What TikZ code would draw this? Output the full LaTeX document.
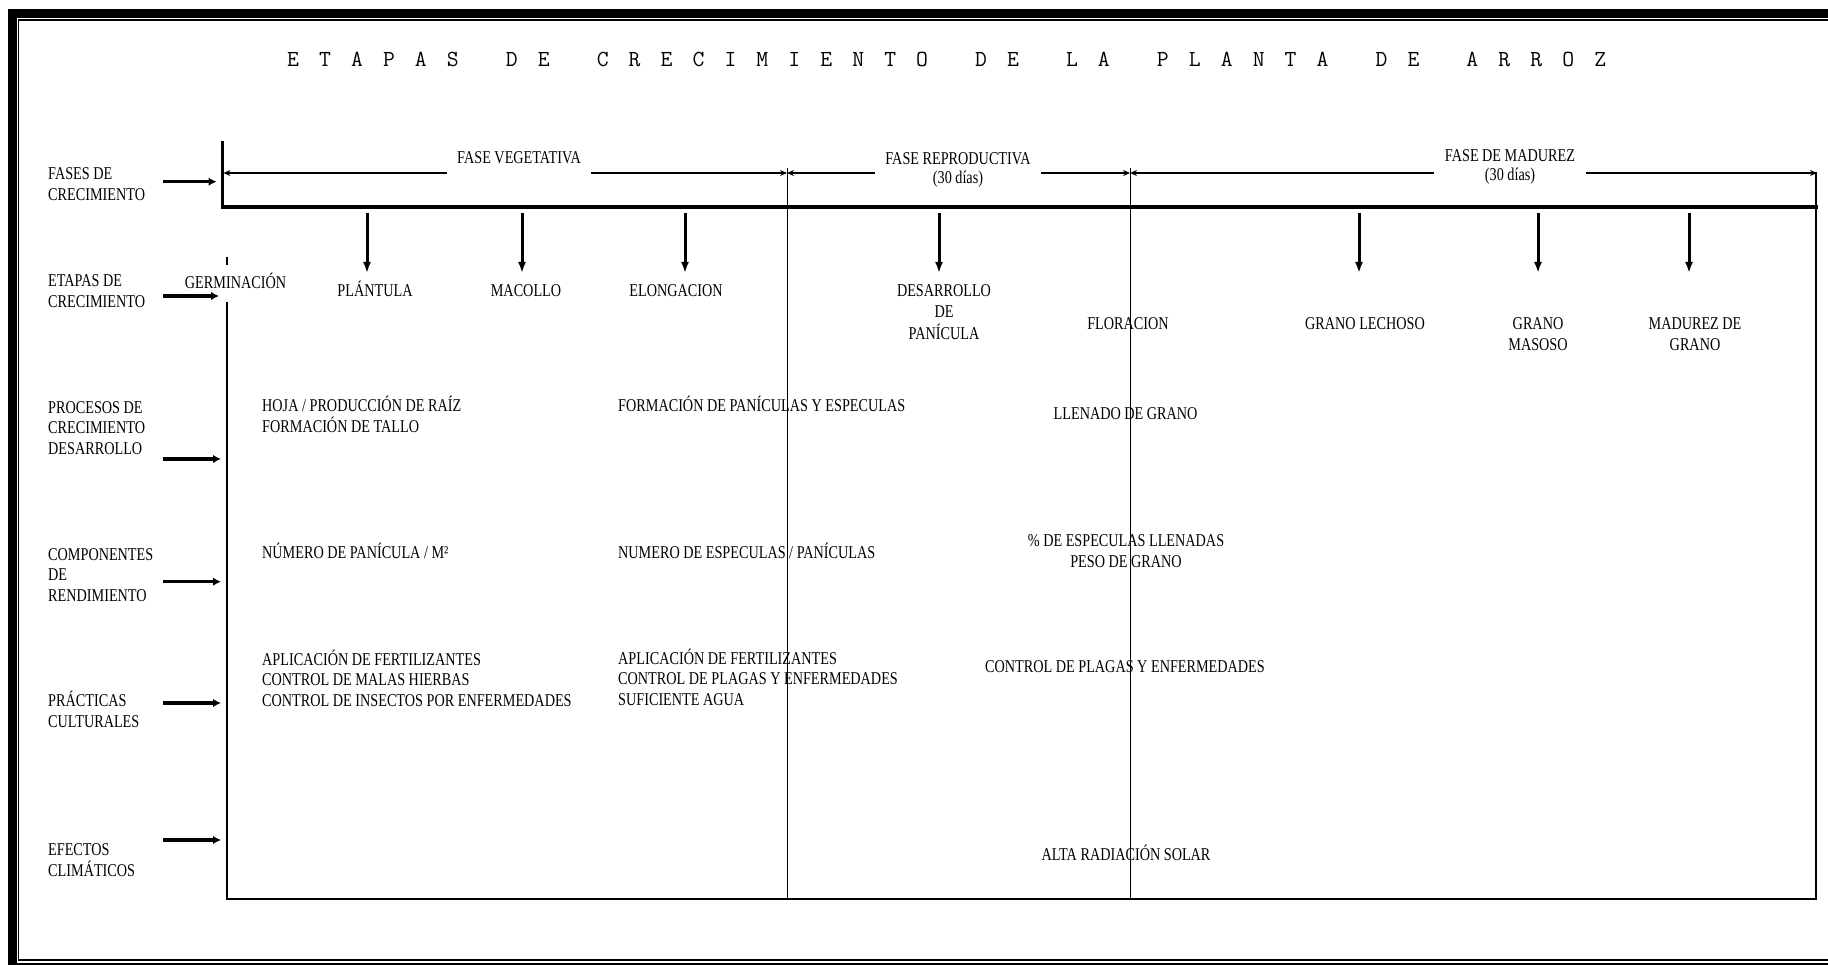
\documentclass[tikz,border=0pt]{standalone}
\usepackage{fontspec}
\setmainfont{Liberation Serif}[FakeStretch=0.79]
\usetikzlibrary{arrows.meta}
\newcommand\lf{\fontsize{18}{20.6}\selectfont}
\newcommand\phf{\fontsize{18}{18.5}\selectfont}
\newcommand\ttl{\ttfamily\fontsize{23}{27}\selectfont\spaceskip=20.1pt\relax}
\newcommand\wg{\hspace{27pt}}
\newcommand\ml[2][c]{\begin{tabular}[t]{@{}#1@{}}#2\end{tabular}}
\begin{document}
\begin{tikzpicture}[x=1pt,y=-1pt,
  txt/.style={inner sep=0pt, font=\lf},
  lft/.style={txt, anchor=base west},
  ctr/.style={txt, anchor=base},
  phase/.style={inner xsep=10.5pt, inner ysep=0pt, anchor=base, font=\phf},
  dim/.style={line width=1.1pt, -{Stealth[length=7pt,width=6pt]}},
  down/.style={line width=3pt, -{Latex[length=11pt,width=8pt]}},
  side/.style={line width=3.2pt, -{Latex[length=8pt,width=8.5pt]}},
  boxline/.style={line width=2.6pt},
  divider/.style={line width=0.9pt}]
\useasboundingbox (0,0) rectangle (1828,965);
\clip (0,0) rectangle (1828,965);
% frame
\draw[line width=8.6pt] (12.2,13.3) rectangle (1845,967);
\draw[line width=1.4pt] (18.5,20) rectangle (1838,960);
% title
\node[anchor=base west, inner sep=0pt, font=\ttl] (title) at (287,67)
  {E T A P A S\wg{} D E\wg{} C R E C I M I E N T O\wg{} D E\wg{} L A\wg{} P L A N T A\wg{} D E\wg{} A R R O Z};
% box structure
\draw[line width=3pt] (222,141) -- (222,207);
\draw[line width=4pt] (220.5,207) -- (1818,207);
\draw[boxline] (1816,172) -- (1816,899);
\draw[boxline] (227,301.7) -- (227,899) -- (1817,899);
\draw[boxline] (227,256.7) -- (227,265);
\draw[divider] (787,168) -- (787,899);
\draw[divider] (1130,168) -- (1130,899);
% phases
\node[phase] (fv) at (519,164) {FASE VEGETATIVA};
\node[phase] (fr) at (958,165) {\ml{FASE REPRODUCTIVA\\(30 días)}};
\node[phase] (fm) at (1510,162) {\ml{FASE DE MADUREZ\\(30 días)}};
\coordinate (a0) at (223.5,173);
\coordinate (a1) at (787,173);
\coordinate (a2) at (1130,173);
\coordinate (a3) at (1817,173);
\draw[dim] (fv.west |- a0) -- (a0);
\draw[dim] (fv.east |- a0) -- (a1);
\draw[dim] (fr.west |- a0) -- (a1);
\draw[dim] (fr.east |- a0) -- (a2);
\draw[dim] (fm.west |- a0) -- (a2);
\draw[dim] (fm.east |- a0) -- (a3);
% stage arrows
\foreach \n/\x in {s1/367,s2/522,s3/685,s4/939,s5/1359,s6/1538,s7/1689}{
  \coordinate (\n) at (\x,213);
  \draw[down] (\n) -- ++(0,60);
}
% stage labels
\node[ctr] (germ) at (235.5,289) {GERMINACIÓN};
\node[ctr] (plan) at (375,297) {PLÁNTULA};
\node[ctr] (maco) at (526,297) {MACOLLO};
\node[ctr] (elon) at (676,297) {ELONGACION};
\node[ctr] (desa) at (944,297) {\ml{DESARROLLO\\DE\\PANÍCULA}};
\node[ctr] (flor) at (1128,330) {FLORACION};
\node[ctr] (lech) at (1365,330) {GRANO LECHOSO};
\node[ctr] (maso) at (1538,330) {\ml{GRANO\\MASOSO}};
\node[ctr] (madu) at (1695,330) {\ml{MADUREZ DE\\GRANO}};
% row labels
\node[lft] (r1) at (48,180) {\ml[l]{FASES DE\\CRECIMIENTO}};
\node[lft] (r2) at (48,286.7) {\ml[l]{ETAPAS DE\\CRECIMIENTO}};
\node[lft] (r3) at (48,413) {\ml[l]{PROCESOS DE\\CRECIMIENTO\\DESARROLLO}};
\node[lft] (r4) at (48,560) {\ml[l]{COMPONENTES\\DE\\RENDIMIENTO}};
\node[lft] (r5) at (48,706.7) {\ml[l]{PRÁCTICAS\\CULTURALES}};
\node[lft] (r6) at (48,855) {\ml[l]{EFECTOS\\CLIMÁTICOS}};
% row arrows
\foreach \n/\y/\e in {1/181.7/216.5,2/296/219,3/459/221,4/581.7/221,5/703/221,6/840/221}{
  \coordinate (b\n) at (163,\y);
  \coordinate (c\n) at (\e,\y);
  \draw[side] (b\n) -- (c\n);
}
% contents
\node[lft] (t1) at (262,411) {\ml[l]{HOJA / PRODUCCIÓN DE RAÍZ\\FORMACIÓN DE TALLO}};
\node[lft] (t2) at (618,411.7) {FORMACIÓN DE PANÍCULAS Y ESPECULAS};
\node[ctr] (t3) at (1125.6,419) {LLENADO DE GRANO};
\node[lft] (t4) at (262,558) {NÚMERO DE PANÍCULA / M²};
\node[lft] (t5) at (618,558) {NUMERO DE ESPECULAS / PANÍCULAS};
\node[ctr] (t6) at (1126,546.7) {\ml{\% DE ESPECULAS LLENADAS\\PESO DE GRANO}};
\node[lft] (t7) at (262,665) {\ml[l]{APLICACIÓN DE FERTILIZANTES\\CONTROL DE MALAS HIERBAS\\CONTROL DE INSECTOS POR ENFERMEDADES}};
\node[lft] (t8) at (618,664) {\ml[l]{APLICACIÓN DE FERTILIZANTES\\CONTROL DE PLAGAS Y ENFERMEDADES\\SUFICIENTE AGUA}};
\node[ctr] (t9) at (1125,672.7) {CONTROL DE PLAGAS Y ENFERMEDADES};
\node[ctr] (t10) at (1126,860) {ALTA RADIACIÓN SOLAR};
\end{tikzpicture}
\end{document}
